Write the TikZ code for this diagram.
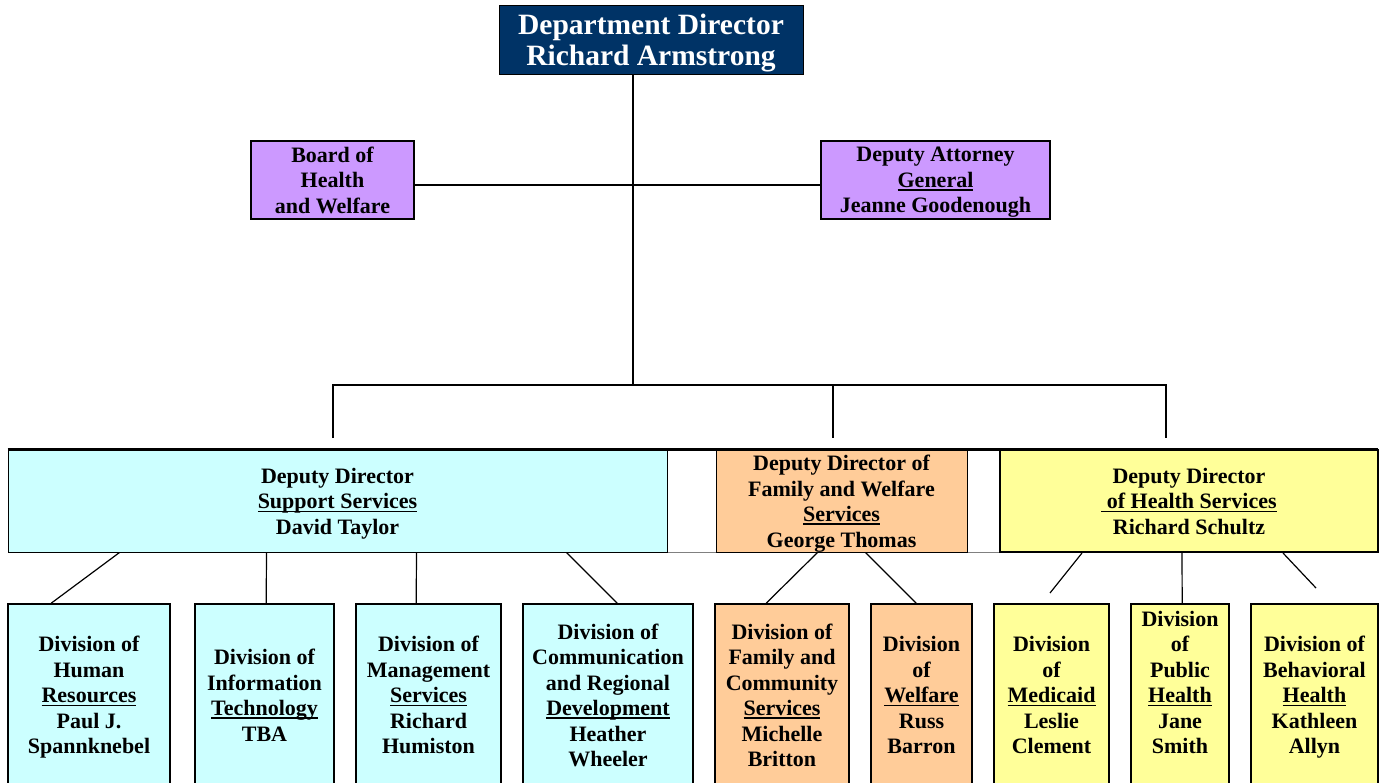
\documentclass[tikz,border=0pt]{standalone}
\usepackage{fontspec}
\setmainfont{Liberation Serif}
\usepackage{tikz}
\usetikzlibrary{positioning}
\usepackage{xcolor}
\definecolor{navy}{RGB}{0,51,102}
\definecolor{lilac}{RGB}{204,153,255}
\definecolor{paleblue}{RGB}{204,255,255}
\definecolor{peach}{RGB}{255,204,153}
\definecolor{paleyellow}{RGB}{255,255,153}
\newcommand{\undl}[1]{\setbox0=\hbox{#1}\leavevmode\rlap{\rule[-3.5pt]{\wd0}{1.6pt}}\box0}

\begin{document}
\begin{tikzpicture}[x=1pt,y=-1pt]
  \tikzset{unit/.style = {shape=rectangle,draw,line width=1.6pt,inner sep=0pt,align=center,text depth=0pt,
      font=\fontsize{22}{25.5}\selectfont\bfseries}}
    \tikzset{head/.style = {unit,fill=navy,text=white,line width=1pt,minimum width=304pt,minimum height=69pt,
      font=\fontsize{29.5}{31}\selectfont\bfseries}}
    \tikzset{board/.style = {unit,fill=lilac,minimum height=78pt}}
    \tikzset{rowframe/.style = {draw=gray,line width=0.8pt,minimum width=1370pt,minimum height=102pt,inner sep=0pt}}
    \tikzset{deputy/.style = {unit,fill=#1,line width=1pt,minimum height=102pt}}
    \tikzset{division/.style = {unit,fill=#1,minimum height=182pt}}
  \tikzset{link/.style = {line width=1.2pt}}

  \clip (0,0) rectangle (1379,782);

	\node[head] (DD) at (651,39.5) {Department Director\\Richard Armstrong};
	\node[board,minimum width=163pt] (BHW) at (332.5,180) {Board of\\Health\\and Welfare};
	\node[board,minimum width=229pt] (DAG) at (935.5,180) {Deputy Attorney\\\undl{General}\\Jeanne Goodenough};

	\node[rowframe] (ROW) at (693,501) {};
	\node[deputy=paleblue,minimum width=659pt] (SUP) at (337.5,501) {Deputy Director\\\undl{Support Services}\\David Taylor};
	\node[deputy=peach,minimum width=251pt] (FWS) at (841.5,501) {Deputy Director of\\Family and Welfare\\\undl{Services}\\George Thomas};
	\node[deputy=paleyellow,minimum width=378pt,line width=2pt] (HS) at (1189,501) {Deputy Director\\\undl{\ of Health Services}\\Richard Schultz};
	\draw[line width=3pt] (ROW.north west) -- (ROW.north east);

	\node[division=paleblue,minimum width=162pt] (HR) at (89,695) {Division of\\Human\\\undl{Resources}\\Paul J.\\Spannknebel};
	\node[division=paleblue,minimum width=139pt] (IT) at (264.5,695) {Division of\\Information\\\undl{Technology}\\TBA};
	\node[division=paleblue,minimum width=145pt] (MS) at (428.5,695) {Division of\\Management\\\undl{Services}\\Richard\\Humiston};
	\node[division=paleblue,minimum width=170pt] (CRD) at (608,695) {Division of\\Communication\\and Regional\\\undl{Development}\\Heather\\Wheeler};
	\node[division=peach,minimum width=134pt] (FCS) at (782,695) {Division of\\Family and\\Community\\\undl{Services}\\Michelle\\Britton};
	\node[division=peach,minimum width=101pt] (WEL) at (921.5,695) {Division\\of\\\undl{Welfare}\\Russ\\Barron};
	\node[division=paleyellow,minimum width=115pt] (MED) at (1051.5,695) {Division\\of\\\undl{Medicaid}\\Leslie\\Clement};
	\node[division=paleyellow,minimum width=98pt] (PH) at (1180,695) {Division\\of\\Public\\\undl{Health}\\Jane\\Smith\\\mbox{}};
	\node[division=paleyellow,minimum width=127pt] (BEH) at (1314.5,695) {Division of\\Behavioral\\\undl{Health}\\Kathleen\\Allyn};

	\coordinate (T) at (633,385);
	\coordinate (SUPtop) at (333,438);
	\coordinate (FWStop) at (833,438);
	\coordinate (HStop) at (1166,438);
	\coordinate (MEDend) at (1050,593);
	\coordinate (BEHend) at (1316,588);

	\draw[link] (DD.south -| T) -- (T);
	\draw[link] ([yshift=-5pt]BHW.east) -- ([yshift=-5pt]DAG.west);
	\draw[link] (SUPtop) |- (T) -| (HStop);
	\draw[link] (FWStop |- T) -- (FWStop);

    \foreach \from/\fx/\to/\tx in {SUP/112/HR/44,SUP/259/IT/72,SUP/409/MS/61,SUP/559/CRD/95,FWS/102/FCS/52,FWS/150/WEL/46,HS/183/PH/52}
    \draw[link] ([xshift=\fx pt]\from.south west) -- ([xshift=\tx pt]\to.north west);

    \foreach \from/\fx/\to in {HS/83/MEDend,HS/284/BEHend}
    \draw[link] ([xshift=\fx pt]\from.south west) -- (\to);

\end{tikzpicture}
\end{document}
